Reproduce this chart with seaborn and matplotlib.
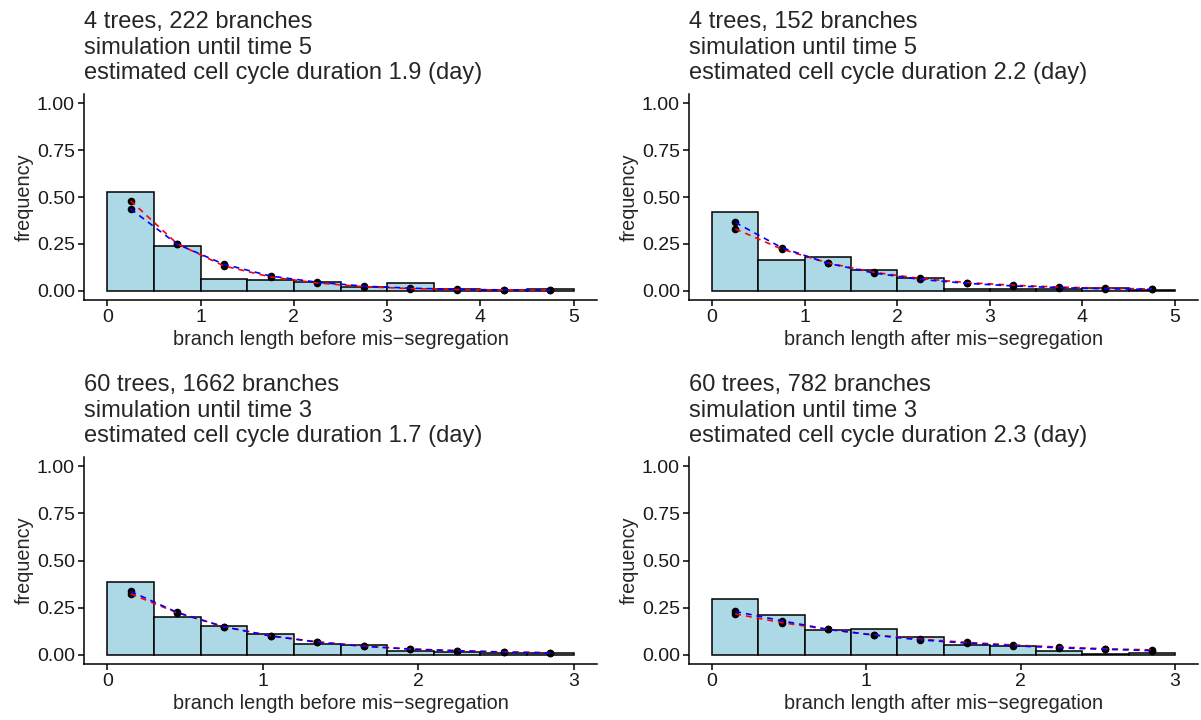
import numpy as np
import pandas as pd
import matplotlib
matplotlib.use('Agg')
import matplotlib.pyplot as plt
import seaborn as sns

# ---- data ----
edges_a = [0, 0.5, 1, 1.5, 2, 2.5, 3, 3.5, 4, 4.5, 5]
mids_a = [0.25, 0.75, 1.25, 1.75, 2.25, 2.75, 3.25, 3.75, 4.25, 4.75]
edges_b = [0, 0.3, 0.6, 0.9, 1.2, 1.5, 1.8, 2.1, 2.4, 2.7, 3]
mids_b = [0.15, 0.45, 0.75, 1.05, 1.35, 1.65, 1.95, 2.25, 2.55, 2.85]

# panel 1: before mis-segregation, 4 trees
hist1 = [0.525, 0.236, 0.064, 0.055, 0.048, 0.018, 0.039, 0.007, 0.004, 0.007]
red1 = [0.480, 0.250, 0.132, 0.073, 0.041, 0.021, 0.011, 0.006, 0.003, 0.002]
blue1 = [0.436, 0.248, 0.141, 0.078, 0.045, 0.024, 0.013, 0.007, 0.004, 0.002]

# panel 2: after mis-segregation, 4 trees
hist2 = [0.418, 0.166, 0.182, 0.111, 0.070, 0.011, 0.009, 0.011, 0.014, 0.004]
red2 = [0.330, 0.222, 0.148, 0.098, 0.065, 0.043, 0.029, 0.019, 0.013, 0.009]
blue2 = [0.364, 0.230, 0.146, 0.094, 0.060, 0.039, 0.025, 0.016, 0.010, 0.007]

# panel 3: before mis-segregation, 60 trees
hist3 = [0.388, 0.202, 0.150, 0.107, 0.055, 0.050, 0.021, 0.0125, 0.007, 0.009]
red3 = [0.323, 0.222, 0.148, 0.100, 0.068, 0.045, 0.030, 0.021, 0.014, 0.010]
blue3 = [0.336, 0.224, 0.148, 0.099, 0.066, 0.044, 0.029, 0.020, 0.013, 0.009]

# panel 4: after mis-segregation, 60 trees
hist4 = [0.296, 0.211, 0.132, 0.1375, 0.093, 0.052, 0.045, 0.018, 0.005, 0.007]
red4 = [0.216, 0.170, 0.134, 0.105, 0.082, 0.065, 0.051, 0.040, 0.031, 0.025]
blue4 = [0.229, 0.180, 0.134, 0.103, 0.078, 0.061, 0.047, 0.036, 0.028, 0.021]

titles = [
    "4 trees, 222 branches\nsimulation until time 5\nestimated cell cycle duration 1.9 (day)",
    "4 trees, 152 branches\nsimulation until time 5\nestimated cell cycle duration 2.2 (day)",
    "60 trees, 1662 branches\nsimulation until time 3\nestimated cell cycle duration 1.7 (day)",
    "60 trees, 782 branches\nsimulation until time 3\nestimated cell cycle duration 2.3 (day)",
]
xlabels = ["branch length before mis\u2212segregation", "branch length after mis\u2212segregation",
           "branch length before mis\u2212segregation", "branch length after mis\u2212segregation"]

panels = [
    (mids_a, edges_a, hist1, red1, blue1, 5),
    (mids_a, edges_a, hist2, red2, blue2, 5),
    (mids_b, edges_b, hist3, red3, blue3, 3),
    (mids_b, edges_b, hist4, red4, blue4, 3),
]

sns.set_style("ticks")
plt.rcParams['font.family'] = ['Liberation Sans', 'DejaVu Sans']

W, H = 1201, 720
fig = plt.figure(figsize=(W / 100, H / 100), dpi=100)

# axes boxes in pixels: left, right, top, bottom
boxes = [(84, 597, 94, 300), (689, 1198, 94, 300),
         (84, 597, 457, 664), (689, 1198, 457, 664)]

for i, (mids, edges, hist, red, blue, xmax) in enumerate(panels):
    l, r, t, b = boxes[i]
    ax = fig.add_axes([l / W, 1 - b / H, (r - l) / W, (b - t) / H])

    df = pd.DataFrame({'x': mids, 'h': hist, 'red': red, 'blue': blue})
    sns.histplot(data=df, x='x', weights='h', bins=edges, stat='count',
                 color='#ADD8E6', edgecolor='black', linewidth=1.1, alpha=1, ax=ax)
    sns.scatterplot(data=df, x='x', y='red', color='black', s=30, linewidth=0, ax=ax, zorder=3)
    sns.scatterplot(data=df, x='x', y='blue', color='black', s=30, linewidth=0, ax=ax, zorder=3)
    sns.lineplot(data=df, x='x', y='red', color='red', linestyle=(0, (3.5, 3)), linewidth=1.2, ax=ax, zorder=4)
    sns.lineplot(data=df, x='x', y='blue', color='blue', linestyle=(0, (3.5, 3)), linewidth=1.2, ax=ax, zorder=5)

    ax.set_xlim(-0.05 * xmax, 1.05 * xmax)
    ax.set_ylim(-0.05, 1.05)
    ax.set_yticks([0, 0.25, 0.5, 0.75, 1.0])
    ax.set_yticklabels(["0.00", "0.25", "0.50", "0.75", "1.00"])
    ax.set_xticks(list(range(0, xmax + 1)))
    sns.despine(ax=ax)
    for s in ['left', 'bottom']:
        ax.spines[s].set_linewidth(1.1)
        ax.spines[s].set_color('black')
    ax.tick_params(axis='both', length=4.3, width=1.1, color='black',
                   labelsize=14, labelcolor='#1a1a1a', pad=2.2)
    ax.set_xlabel(xlabels[i], fontsize=14.3, labelpad=3)
    ax.set_ylabel("frequency", fontsize=14.3, labelpad=2.5)
    ax.set_title(titles[i], loc='left', fontsize=17, pad=10.8, linespacing=1.2)

fig.savefig("out.png", dpi=100)
